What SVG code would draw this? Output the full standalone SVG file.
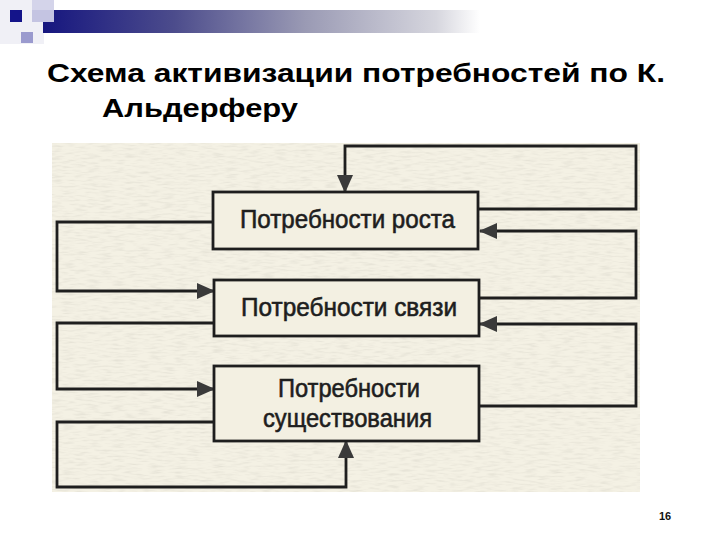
<svg xmlns="http://www.w3.org/2000/svg" width="720" height="540" viewBox="0 0 720 540">
<defs>
<linearGradient id="bar" x1="0" y1="0" x2="1" y2="0">
<stop offset="0" stop-color="#16167f"/>
<stop offset="0.3" stop-color="#4c4c8c"/>
<stop offset="0.6" stop-color="#9a9ab4"/>
<stop offset="0.9" stop-color="#d6d6de"/>
<stop offset="1" stop-color="#ffffff"/>
</linearGradient>
<filter id="grain" x="0" y="0" width="100%" height="100%">
<feTurbulence type="fractalNoise" baseFrequency="0.08 0.5" numOctaves="2" seed="3" result="n"/>
<feColorMatrix in="n" type="matrix" values="0 0 0 0 0.45  0 0 0 0 0.43  0 0 0 0 0.38  0 0 0 -1.6 0.9" result="c"/>
<feComposite in="c" in2="SourceGraphic" operator="in"/>
</filter>
<marker id="ah" viewBox="0 0 18 16" refX="17" refY="8" markerWidth="18" markerHeight="16" markerUnits="userSpaceOnUse" orient="auto">
<path d="M0,0 L18,8 L0,16 z" fill="#3a3a3a"/>
</marker>
<style>
.title{font-family:"Liberation Sans",Arial,sans-serif;font-weight:bold;font-size:25px;fill:#000}
.box{fill:#f3f0e2;stroke:#1e1e1e;stroke-width:2.8}
.lbl{font-family:"Liberation Sans Narrow","Arial Narrow","Liberation Sans",sans-serif;font-size:26px;fill:#1e1e1e;stroke:#1e1e1e;stroke-width:0.6;text-anchor:start}
.con{fill:none;stroke:#1e1e1e;stroke-width:2.8;marker-end:url(#ah)}
.pg{font-family:"Liberation Sans",Arial,sans-serif;font-weight:bold;font-size:11px;fill:#111}
</style>
</defs>
<rect width="720" height="540" fill="#fff"/>
<g id="decor">
<rect x="0" y="0" width="44" height="44" fill="#f0f0f6"/>
<rect x="32" y="0" width="22" height="22" fill="#d4d4ea"/>
<rect x="43" y="10" width="437" height="23" fill="url(#bar)"/>
<rect x="32" y="10" width="22" height="12" fill="#c4c4e2"/>
<rect x="10" y="10" width="12" height="12" fill="#14148a"/>
<rect x="21" y="32" width="12" height="11" fill="#9a9ace"/>
</g>
<text class="title" x="47" y="82" textLength="618" lengthAdjust="spacingAndGlyphs">Схема активизации потребностей по К.</text>
<text class="title" x="102" y="117" textLength="196" lengthAdjust="spacingAndGlyphs">Альдерферу</text>
<g id="scan">
<rect x="52" y="143" width="588" height="349" fill="#f4f1e4"/>
<rect x="52" y="143" width="588" height="349" fill="#f4f1e4" filter="url(#grain)" opacity="0.3"/>
</g>
<g id="connectors">
<path class="con" d="M478,209 H636 V146 H345 V192"/>
<path class="con" d="M479,298 H636 V231 H480"/>
<path class="con" d="M479,406 H636 V324 H480"/>
<path class="con" d="M213,222 H57 V291 H214"/>
<path class="con" d="M214,323 H57 V389 H214"/>
<path class="con" d="M214,422 H57 V487 H346 V441"/>
</g>
<g id="node-growth">
<rect class="box" x="213" y="192" width="265" height="57"/>
<text class="lbl" x="240" y="228" textLength="215" lengthAdjust="spacingAndGlyphs">Потребности роста</text>
</g>
<g id="node-relatedness">
<rect class="box" x="214" y="280" width="265" height="56"/>
<text class="lbl" x="241" y="316" textLength="216" lengthAdjust="spacingAndGlyphs">Потребности связи</text>
</g>
<g id="node-existence">
<rect class="box" x="214" y="366" width="265" height="75"/>
<text class="lbl" x="278" y="397" textLength="142" lengthAdjust="spacingAndGlyphs">Потребности</text>
<text class="lbl" x="263" y="427" textLength="169" lengthAdjust="spacingAndGlyphs">существования</text>
</g>
<text class="pg" x="665" y="520" text-anchor="middle">16</text>
</svg>
